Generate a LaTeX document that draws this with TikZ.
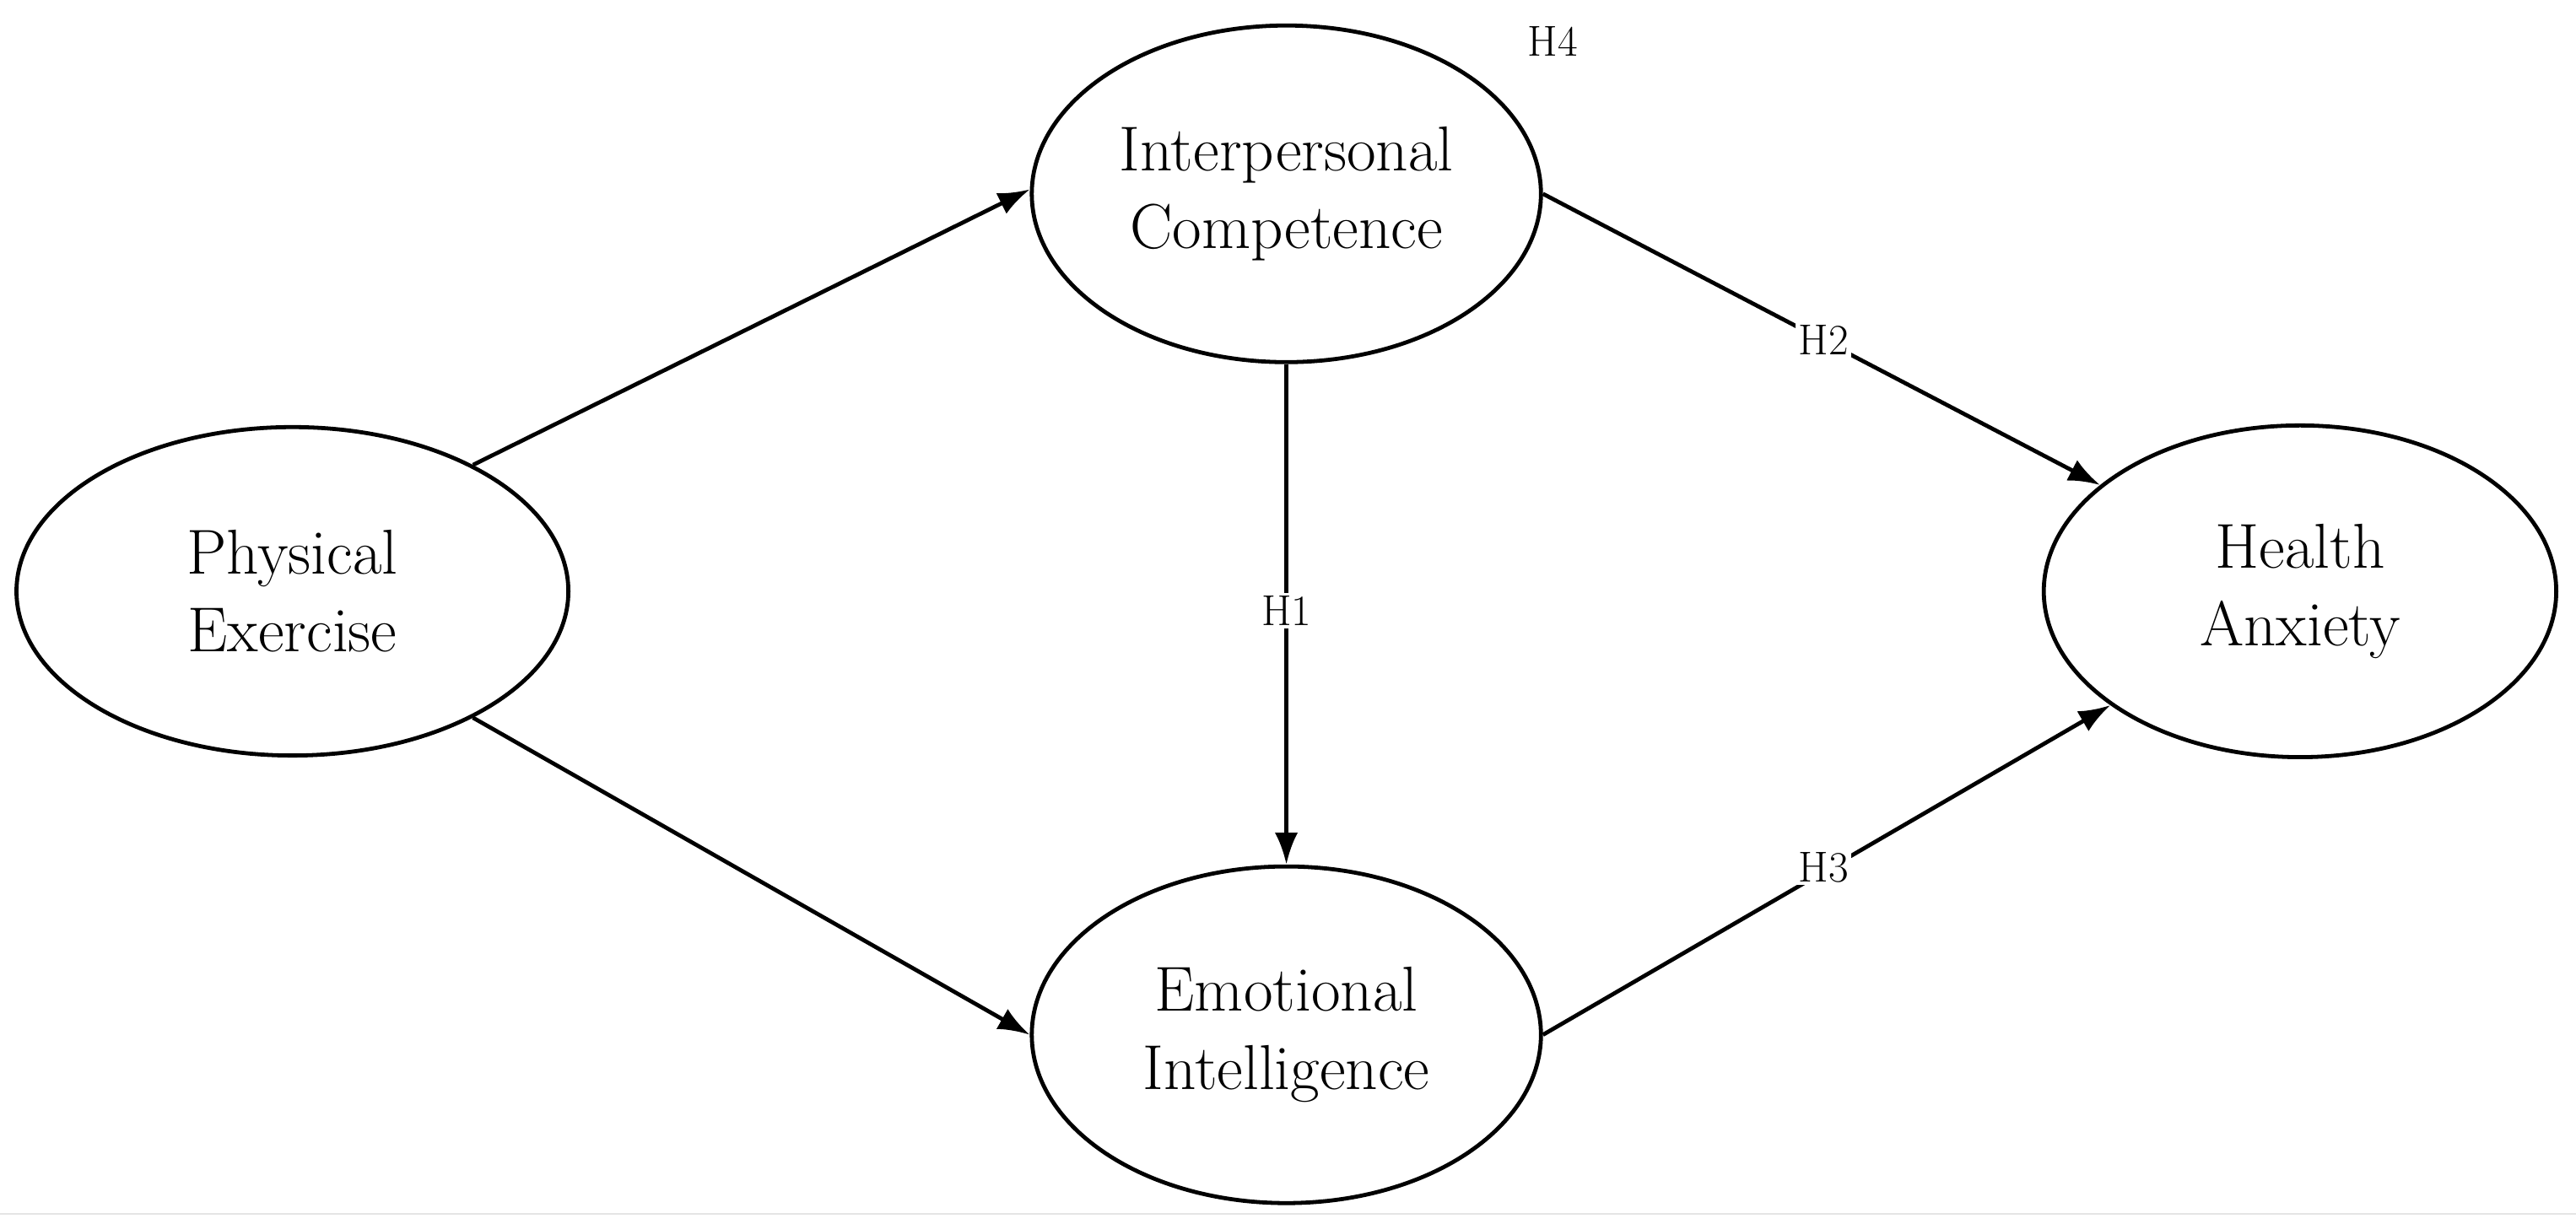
\documentclass[tikz,border=0pt]{standalone}
\usetikzlibrary{shapes.geometric,arrows.meta}
\begin{document}
\begin{tikzpicture}[x=0.02cm,y=-0.02cm,line join=bevel,>={Latex[length=11pt,width=8pt]}]
  \tikzset{
    construct/.style={draw,ellipse,line width=1.4pt,inner sep=0pt,align=center,
      font=\fontsize{22}{27}\selectfont},
    path/.style={draw,line width=1.4pt,->},
    hyp/.style={font=\fontsize{15}{17}\selectfont,fill=white,inner sep=1pt}
  }
  \useasboundingbox (0,0) rectangle (1568,745);

  \node[construct,minimum width=6.72cm,minimum height=4cm] (pe) at (178,360) {Physical\\Exercise};
  \node[construct,minimum width=6.2cm,minimum height=4.1cm] (ic) at (783,118) {Interpersonal\\Competence};
  \node[construct,minimum width=6.2cm,minimum height=4.1cm] (ei) at (783,630) {Emotional\\Intelligence};
  \node[construct,minimum width=6.24cm,minimum height=4.04cm] (ha) at (1400,360) {Health\\Anxiety};

  \draw[path] (pe.35) -- (ic.179);
  \draw[path] (pe.-35) -- (ei.180);
  \draw[path] (ic.0) -- (ha.152);
  \draw[path] (ei.0) -- (ha.211);
  \draw[path] (ic.south) -- (ei.north);

  \node[hyp] (h1) at (783,372) {H1};
  \node[hyp] (h2) at (1110,207) {H2};
  \node[hyp] (h3) at (1110,528) {H3};
  \node[hyp,fill=none] (h4) at (945,25) {H4};

  \draw[black!10,line width=0.6pt] (0,739) -- (1568,739);
\end{tikzpicture}
\end{document}
